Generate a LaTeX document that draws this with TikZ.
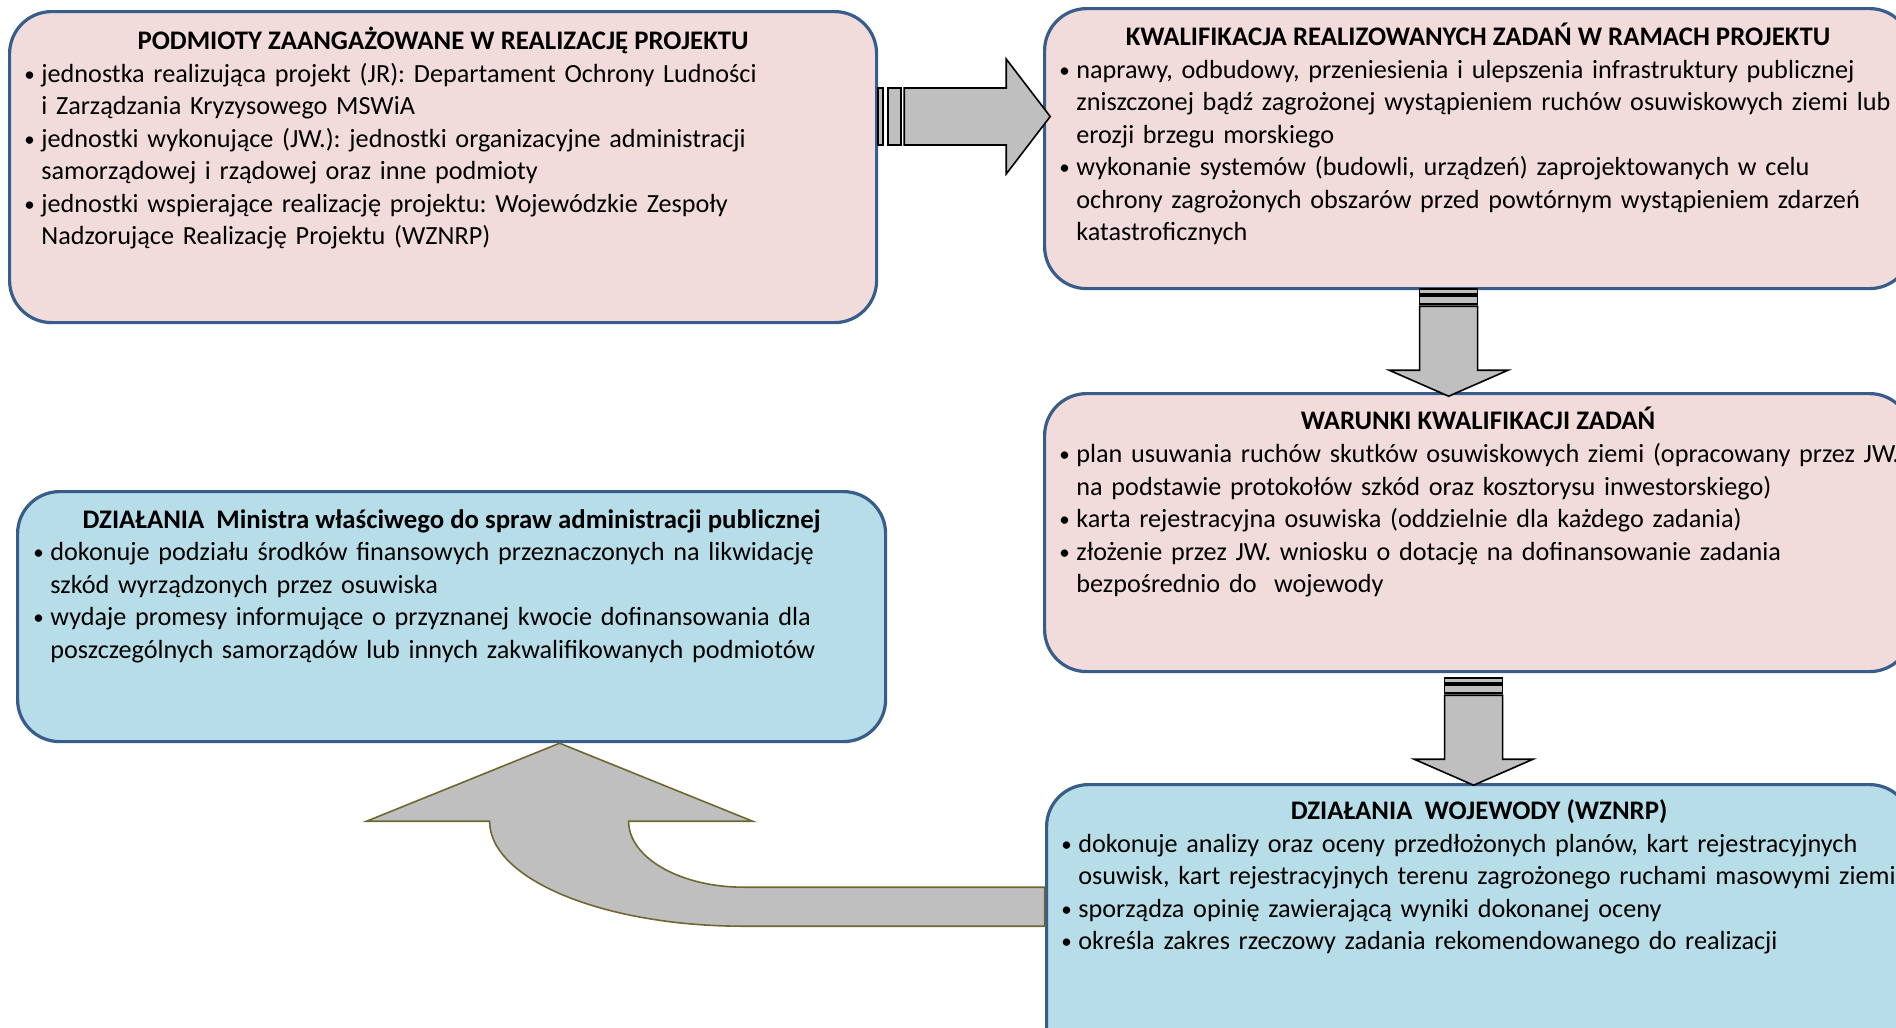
\documentclass[tikz,border=0pt]{standalone}
\usepackage{fontspec}
\setmainfont{Carlito}
\usetikzlibrary{positioning, calc}
\definecolor{boxpink}{RGB}{242,220,219}
\definecolor{boxblue}{RGB}{183,222,232}
\definecolor{boxedge}{RGB}{56,93,138}
\definecolor{arrowgray}{RGB}{191,191,191}
\definecolor{arrowolive}{RGB}{110,104,48}
\newcommand{\bitem}[1]{\par\noindent\hangindent=8.5pt\hangafter=1\makebox[8.5pt][l]{\raisebox{0.5pt}{\scalebox{0.8}{\textbullet}}}\strut#1\par}
\tikzset{
  box/.style={draw=boxedge, line width=1.6pt, rounded corners=21pt, anchor=north west, inner sep=0pt},
  pinkbox/.style={box, fill=boxpink},
  bluebox/.style={box, fill=boxblue},
  boxtitle/.style={anchor=base, inner sep=0pt, font=\fontsize{13.4}{16.25}\selectfont\bfseries},
  boxbody/.style={anchor=north west, text width=470pt, align=left, inner sep=0pt,
    font=\fontsize{13.1}{16.25}\selectfont\frenchspacing}
}
\tikzset{
  blockarrow/.style={draw=black, line width=0.8pt, fill=arrowgray},
  bentarrow/.style={draw=arrowolive, line width=0.8pt, fill=arrowgray}
}

\begin{document}
\begin{tikzpicture}[x=0.5pt, y=-0.5pt]
  \useasboundingbox (0,0) rectangle (1896,1028);
  \clip (0,0) rectangle (1896,1028);

  % boxes
  \node[pinkbox, minimum width=433.5pt, minimum height=155.5pt] (podmioty) at (8,10) {};
  \node[pinkbox, minimum width=433.5pt, minimum height=140pt] (kwalif) at (1043,7) {};
  \node[pinkbox, minimum width=433.5pt, minimum height=139pt] (warunki) at (1043,392) {};
  \node[bluebox, minimum width=432.5pt, minimum height=150pt] (wojewoda) at (1045,783) {};
  \node[bluebox, minimum width=434pt, minimum height=125pt] (minister) at (16,490) {};

  % titles
  \node[boxtitle] (podmiotyT) at ($(podmioty.north)+(0,39)$) {PODMIOTY ZAANGAŻOWANE W REALIZACJĘ PROJEKTU};
  \node[boxtitle] (kwalifT) at ($(kwalif.north)+(0,38)$) {KWALIFIKACJA REALIZOWANYCH ZADAŃ W RAMACH PROJEKTU};
  \node[boxtitle] (warunkiT) at ($(warunki.north)+(0,37)$) {WARUNKI KWALIFIKACJI ZADAŃ};
  \node[boxtitle] (wojewodaT) at ($(wojewoda.north)+(0,36)$) {DZIAŁANIA\ \ WOJEWODY (WZNRP)};
  \node[boxtitle] (ministerT) at ($(minister.north)+(0,38)$) {DZIAŁANIA\ \ Ministra właściwego do spraw administracji publicznej};

  % bullet texts
  \node[boxbody] (podmiotyB) at ($(podmioty.north west)+(16,39.5)$) {%
    \bitem{jednostka realizująca projekt (JR): Departament Ochrony Ludności\newline i Zarządzania Kryzysowego MSWiA}
    \bitem{jednostki wykonujące (JW.): jednostki organizacyjne administracji\newline samorządowej i rządowej oraz inne podmioty}
    \bitem{jednostki wspierające realizację projektu: Wojewódzkie Zespoły\newline Nadzorujące Realizację Projektu (WZNRP)}};
  \node[boxbody] (kwalifB) at ($(kwalif.north west)+(16,38.5)$) {%
    \bitem{naprawy, odbudowy, przeniesienia i ulepszenia infrastruktury publicznej\newline zniszczonej bądź zagrożonej wystąpieniem ruchów osuwiskowych ziemi lub\newline erozji brzegu morskiego}
    \bitem{wykonanie systemów (budowli, urządzeń) zaprojektowanych w celu\newline ochrony zagrożonych obszarów przed powtórnym wystąpieniem zdarzeń\newline katastroficznych}};
  \node[boxbody] (warunkiB) at ($(warunki.north west)+(16,38)$) {%
    \bitem{plan usuwania ruchów skutków osuwiskowych ziemi (opracowany przez JW.\newline na podstawie protokołów szkód oraz kosztorysu inwestorskiego)}
    \bitem{karta rejestracyjna osuwiska (oddzielnie dla każdego zadania)}
    \bitem{złożenie przez JW. wniosku o dotację na dofinansowanie zadania\newline bezpośrednio do\ \ wojewody}};
  \node[boxbody] (wojewodaB) at ($(wojewoda.north west)+(16,36.5)$) {%
    \bitem{dokonuje analizy oraz oceny przedłożonych planów, kart rejestracyjnych\newline osuwisk, kart rejestracyjnych terenu zagrożonego ruchami masowymi ziemi}
    \bitem{sporządza opinię zawierającą wyniki dokonanej oceny}
    \bitem{określa zakres rzeczowy zadania rekomendowanego do realizacji}};
  \node[boxbody] (ministerB) at ($(minister.north west)+(17,38)$) {%
    \bitem{dokonuje podziału środków finansowych przeznaczonych na likwidację\newline szkód wyrządzonych przez osuwiska}
    \bitem{wydaje promesy informujące o przyznanej kwocie dofinansowania dla\newline poszczególnych samorządów lub innych zakwalifikowanych podmiotów}};

  % arrow podmioty -> kwalif
  \coordinate (ra) at ($(podmioty.north east)+(0,106.5)$);
  \begin{scope}[shift={(ra)}]
    \draw[blockarrow] (0,-28.5) rectangle (5,28.5);
    \draw[blockarrow] (10,-28.5) rectangle (23,28.5);
    \draw[blockarrow] (26,-28.5) -- (128,-28.5) -- (128,-57.5) -- (172,0)
      -- (128,57.5) -- (128,28.5) -- (26,28.5) -- cycle;
  \end{scope}

  % arrows kwalif -> warunki -> wojewoda
  \coordinate (da1) at ($(kwalif.south)+(-29.5,-1)$);
  \coordinate (da2) at ($(warunki.south)+(-4.5,5)$);
  \foreach \c in {da1, da2} {
    \begin{scope}[shift={(\c)}]
      \draw[blockarrow] (-29,0) rectangle (29,5);
      \draw[blockarrow] (-29,7) rectangle (29,15);
      \draw[blockarrow] (-29,17) -- (-29,81) -- (-59.5,81) -- (0,107)
        -- (59.5,81) -- (29,81) -- (29,17) -- cycle;
    \end{scope}
  }

  % bent arrow wojewoda -> minister
  \coordinate (ba) at ($(minister.south)+(108,0)$);
  \begin{scope}[shift={(ba)}]
    \draw[bentarrow] (0,0) -- (193,78) -- (69,78)
      .. controls (69,114.4) and (120.5,144) .. (184,144)
      -- (485,144) -- (485,183) -- (184,183)
      .. controls (43.8,183) and (-70,136) .. (-70,78)
      -- (-193,78) -- cycle;
  \end{scope}
\end{tikzpicture}
\end{document}
